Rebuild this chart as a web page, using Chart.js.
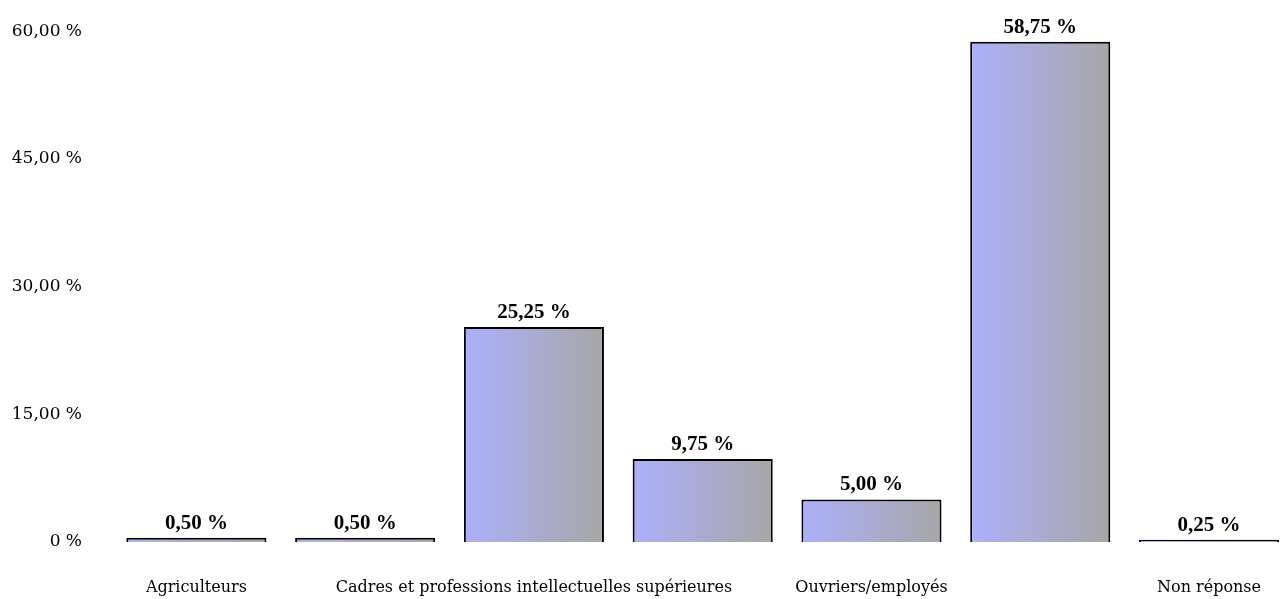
<!DOCTYPE html>
<html lang="fr">
<head>
<meta charset="utf-8">
<title>Catégories socioprofessionnelles</title>
<script src="https://cdn.jsdelivr.net/npm/chart.js@4/dist/chart.umd.min.js"></script>
<style>
  html, body { margin: 0; padding: 0; background: #fff; overflow: hidden; }
  #wrap { width: 1297px; height: 608px; position: relative; top: -9px; }
</style>
</head>
<body>
<div id="wrap"><canvas id="graphique"></canvas></div>
<script>
// Catégories (seules certaines étiquettes sont affichées sur l'axe)
const categories = [
    'Agriculteurs',
    '',
    'Cadres et professions intellectuelles supérieures',
    '',
    'Ouvriers/employés',
    '',
    'Non réponse'
];
// Pourcentages par catégorie
const pourcentages = [0.50, 0.50, 25.25, 9.75, 5.00, 58.75, 0.25];
// Graduations de l'axe vertical
const graduations = [0, 15, 30, 45, 60];

const largeurBarre = 0.83;

// Format français : virgule décimale
function formatPct(v) {
    return v === 0 ? '0 %' : v.toFixed(2).replace('.', ',') + ' %';
}

// Dégradé horizontal bleu -> gris pour chaque barre
function degrade(ctx) {
    const chart = ctx.chart;
    const x = chart.scales.x;
    if (!x || ctx.dataIndex === undefined) return '#a9aef5';
    const centre = x.getPixelForValue(ctx.dataIndex);
    const demi = (x.width / categories.length) * largeurBarre / 2;
    if (!isFinite(centre) || !isFinite(demi) || demi <= 0) return '#a9aef5';
    const g = chart.ctx.createLinearGradient(centre - demi, 0, centre + demi, 0);
    g.addColorStop(0, '#abb0fb');
    g.addColorStop(1, '#a7a7a7');
    return g;
}

// Étiquettes de valeur au-dessus des barres
const etiquettes = {
    id: 'etiquettes',
    afterDatasetsDraw(chart) {
        const ctx = chart.ctx;
        const meta = chart.getDatasetMeta(0);
        ctx.save();
        ctx.font = 'bold 21px "Liberation Serif", serif';
        ctx.fillStyle = '#000';
        ctx.textAlign = 'center';
        ctx.textBaseline = 'alphabetic';
        meta.data.forEach((bar, i) => {
            ctx.fillText(formatPct(pourcentages[i]), bar.x, bar.y - 9);
        });
        ctx.restore();
    }
};

new Chart(document.getElementById('graphique'), {
    type: 'bar',
    data: {
        labels: categories,
        datasets: [{
            data: pourcentages,
            backgroundColor: degrade,
            borderColor: '#000',
            borderWidth: 2,
            categoryPercentage: 1,
            barPercentage: largeurBarre
        }]
    },
    options: {
        responsive: true,
        maintainAspectRatio: false,
        animation: false,
        layout: { padding: 0 },
        plugins: {
            legend: { display: false },
            tooltip: { enabled: false }
        },
        scales: {
            x: {
                afterFit(axis) {
                    axis.height = 57;
                },
                grid: { display: false, drawTicks: false },
                border: { display: false },
                ticks: {
                    autoSkip: false,
                    maxRotation: 0,
                    padding: 36,
                    color: '#000',
                    font: { family: '"DejaVu Serif", serif', size: 16 }
                }
            },
            y: {
                min: 0,
                max: 60,
                afterBuildTicks(axis) {
                    axis.ticks = graduations.map(v => ({ value: v }));
                },
                afterFit(axis) {
                    axis.width = 112;
                },
                grid: { display: false, drawTicks: false },
                border: { display: false },
                ticks: {
                    padding: 30,
                    color: '#000',
                    font: { family: '"DejaVu Serif", serif', size: 17 },
                    callback: v => formatPct(v)
                }
            }
        }
    },
    plugins: [etiquettes]
});
</script>
</body>
</html>
